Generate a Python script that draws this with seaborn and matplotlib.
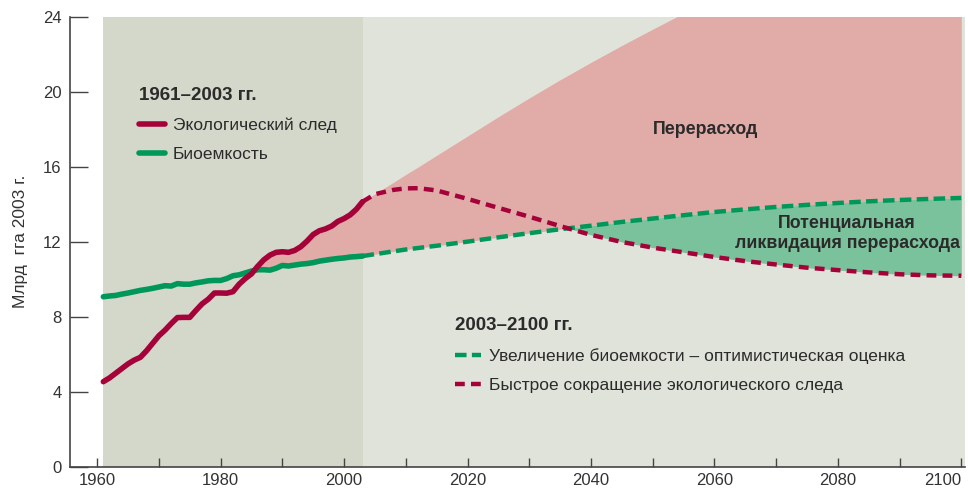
import matplotlib
matplotlib.use("Agg")
import matplotlib.pyplot as plt
import seaborn as sns
import numpy as np

# historical data 1961-2003 (billion global hectares)
hist_years = list(range(1961, 2004))
footprint = [4.55, 4.75, 5.0, 5.25, 5.5, 5.7, 5.85, 6.2, 6.6, 7.0,
             7.3, 7.65, 7.97, 7.98, 7.98, 8.35, 8.7, 8.95, 9.28, 9.28,
             9.27, 9.35, 9.75, 10.05, 10.3, 10.7, 11.05, 11.3, 11.45, 11.48,
             11.45, 11.55, 11.75, 12.05, 12.4, 12.6, 12.7, 12.85, 13.1, 13.25,
             13.45, 13.75, 14.15]
biocapacity = [9.08, 9.12, 9.15, 9.22, 9.28, 9.35, 9.42, 9.47, 9.53, 9.6,
               9.67, 9.65, 9.78, 9.75, 9.75, 9.82, 9.87, 9.93, 9.95, 9.95,
               10.05, 10.2, 10.25, 10.35, 10.45, 10.52, 10.52, 10.5, 10.6, 10.75,
               10.72, 10.77, 10.82, 10.85, 10.9, 10.98, 11.03, 11.08, 11.12, 11.15,
               11.2, 11.22, 11.25]

# scenarios 2003-2100
proj_years = [2003, 2005, 2008, 2010, 2012, 2015, 2020, 2025, 2030, 2035, 2040, 2045,
              2050, 2055, 2060, 2065, 2070, 2075, 2080, 2085, 2090, 2095, 2100]
bio_optimistic = [11.25, 11.35, 11.5, 11.6, 11.68, 11.8, 12.02, 12.25, 12.47, 12.68, 12.87, 13.07,
                  13.25, 13.43, 13.6, 13.74, 13.87, 13.98, 14.08, 14.17, 14.24, 14.3, 14.35]
fp_reduction = [14.15, 14.55, 14.78, 14.86, 14.87, 14.75, 14.3, 13.82, 13.35, 12.85, 12.38, 12.0,
                11.7, 11.45, 11.2, 10.98, 10.8, 10.63, 10.5, 10.38, 10.28, 10.22, 10.2]
fp_business_as_usual = [14.15, 14.57, 15.18, 15.6, 16.0, 16.62, 17.65, 18.68, 19.68, 20.65, 21.58, 22.48,
                        23.35, 24.2, 25.0, 25.8, 26.6, 27.3, 28.0, 28.7, 29.4, 30.0, 30.6]

yticks = [0, 4, 8, 12, 16, 20, 24]
xticks = [1960, 1980, 2000, 2020, 2040, 2060, 2080, 2100]

RED = "#a6023a"
GREEN = "#00985a"
PINK = "#e1aba7"
GREEN_FILL = "#79c29b"
DARK_BG = "#d4d8ca"
LIGHT_BG = "#e0e3da"
TXT = "#2b2b2b"

sns.set_style("white")
plt.rcParams["font.family"] = ["Liberation Sans", "DejaVu Sans"]

fig = plt.figure(figsize=(9.68, 4.90), dpi=100)
ax = fig.add_axes([70 / 968, 23 / 490, 895 / 968, 450 / 490])

x0, x1 = 1955.6, 2100.6
ax.set_xlim(x0, x1)
ax.set_ylim(0, 24)

ax.axvspan(1961, 2003, color=DARK_BG, lw=0, zorder=0)
ax.axvspan(2003, x1, color=LIGHT_BG, lw=0, zorder=0)

hy = np.array(hist_years)
fp = np.array(footprint)
bc = np.array(biocapacity)
ax.fill_between(hy, bc, fp, where=fp >= bc, interpolate=True, color=PINK, lw=0, zorder=1)

py = np.array(proj_years)
bo = np.array(bio_optimistic)
fr = np.array(fp_reduction)
bau = np.array(fp_business_as_usual)
ax.fill_between(py, bo, bau, color=PINK, lw=0, zorder=1)
ax.fill_between(py, fr, bo, where=bo >= fr, interpolate=True, color=GREEN_FILL, lw=0, zorder=1)

sns.lineplot(x=proj_years, y=bio_optimistic, ax=ax, color=GREEN, lw=3.2,
             linestyle=(0, (2.6, 1.2)), label="Увеличение биоемкости – оптимистическая оценка", zorder=3)
sns.lineplot(x=proj_years, y=fp_reduction, ax=ax, color=RED, lw=3.2,
             linestyle=(0, (2.2, 1.4)), label="Быстрое сокращение экологического следа", zorder=3)
sns.lineplot(x=hist_years, y=biocapacity, ax=ax, color=GREEN, lw=4, label="Биоемкость", zorder=4)
sns.lineplot(x=hist_years, y=footprint, ax=ax, color=RED, lw=4, label="Экологический след", zorder=4)

handles, labels = ax.get_legend_handles_labels()
lab = dict(zip(labels, handles))

leg_kw = dict(frameon=False, loc="upper left", borderpad=0, borderaxespad=0,
              handlelength=1.5, handletextpad=0.45, labelspacing=0.8,
              prop={"size": 12.5}, title_fontproperties={"size": 13.5, "weight": "bold"},
              alignment="left", labelcolor=TXT)
leg1 = ax.legend([lab["Экологический след"], lab["Биоемкость"]],
                 ["Экологический след", "Биоемкость"],
                 title="1961–2003 гг.", bbox_to_anchor=(0.077, 0.845), **leg_kw)
leg1.get_title().set_color(TXT)
ax.add_artist(leg1)
leg2 = ax.legend([lab["Увеличение биоемкости – оптимистическая оценка"],
                  lab["Быстрое сокращение экологического следа"]],
                 ["Увеличение биоемкости – оптимистическая оценка",
                  "Быстрое сокращение экологического следа"],
                 title="2003–2100 гг.", bbox_to_anchor=(0.43, 0.333), **leg_kw)
leg2.get_title().set_color(TXT)

ax.text(2058.6, 18.0, "Перерасход", ha="center", va="center",
        fontsize=12.75, fontweight="bold", color=TXT, zorder=5)
ax.text(2081.5, 12.45, "Потенциальная\nликвидация перерасхода", ha="center", va="center",
        fontsize=12.75, fontweight="bold", color=TXT, linespacing=1.2, zorder=5)

ax.set_yticks(yticks)
ax.set_xticks(xticks)
ax.set_xticks(list(range(1970, 2100, 20)), minor=True)
ax.tick_params(axis="y", direction="in", length=13, width=1, color="#444444",
               labelsize=12, labelcolor="#333333", pad=6, left=True)
ax.tick_params(axis="x", which="both", direction="in", length=6.5, width=1, color="#444444",
               labelsize=12, labelcolor="#333333", pad=4, bottom=True)
ax.get_xticklabels()[-1].set_horizontalalignment("right")

for s in ["top", "right"]:
    ax.spines[s].set_visible(False)
for s in ["left", "bottom"]:
    ax.spines[s].set_color("#444444")
    ax.spines[s].set_linewidth(1.2)

ax.set_xlabel("")
ax.set_ylabel("Млрд  гга 2003 г.", fontsize=12.5, color="#333333")
ax.yaxis.set_label_coords(-0.047, 0.502)

fig.savefig("out.png", dpi=100)
